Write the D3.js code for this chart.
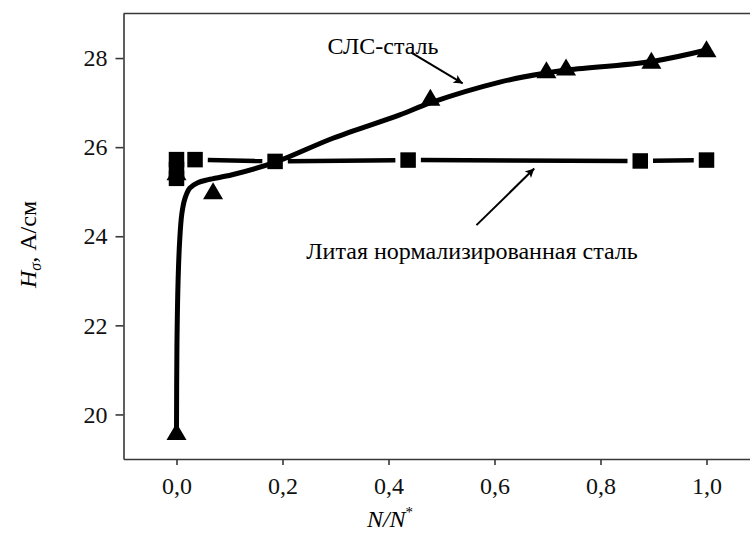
<!DOCTYPE html>
<html>
<head>
<meta charset="utf-8">
<script src="https://cdn.jsdelivr.net/npm/d3@7"></script>
<style>
body { margin: 0; background: #fff; }
</style>
</head>
<body>
<div id="chart"></div>
<script>
// SLS steel (triangles)
var slsX = [0.0, 0.0, 0.069, 0.479, 0.698, 0.735, 0.896, 1.0];
var slsY = [19.62, 25.45, 25.02, 27.12, 27.74, 27.80, 27.95, 28.21];

// smoothed curve drawn through the SLS points
var fitX = [0.0, 0.0008, 0.003, 0.006, 0.010, 0.016, 0.025, 0.040, 0.060, 0.105, 0.188, 0.295, 0.420, 0.480, 0.610, 0.690, 0.735, 0.900, 1.0];
var fitY = [19.62, 21.5, 23.0, 23.9, 24.5, 24.85, 25.08, 25.2, 25.27, 25.38, 25.67, 26.2, 26.72, 27.0, 27.46, 27.65, 27.73, 27.93, 28.18];

// cast normalized steel (squares)
var castX = [0.0, 0.0, 0.0, 0.035, 0.186, 0.437, 0.875, 1.0];
var castY = [25.3, 25.5, 25.72, 25.72, 25.68, 25.71, 25.69, 25.71];

var xTicks = [0, 0.2, 0.4, 0.6, 0.8, 1.0];
var xMinor = [-0.1, 0.1, 0.3, 0.5, 0.7, 0.9, 1.1];
var yTicks = [20, 22, 24, 26, 28];
var yMinor = [21, 23, 25, 27];

var W = 750, H = 540;
var axisColor = '#383838';
var serif = "'Liberation Serif', serif";
var fs = '24px';

var svg = d3.select('#chart').append('svg')
    .attr('width', W)
    .attr('height', H);

var x = d3.scaleLinear().domain([-0.1, 1.1]).range([123.5, 759.5]);
var y = d3.scaleLinear().domain([19, 29]).range([459, 13.5]);

var comma = function(d) { return d3.format('.1f')(d).replace('.', ','); };

// AXES
var gx = svg.append('g')
    .attr('transform', 'translate(0,' + y(19) + ')');
gx.call(d3.axisBottom(x).tickValues(xMinor).tickSize(3).tickSizeOuter(0).tickFormat(''));
gx.call(d3.axisBottom(x).tickValues(xTicks).tickSize(6).tickSizeOuter(0).tickFormat(comma));

var gy = svg.append('g')
    .attr('transform', 'translate(' + x(-0.1) + ',0)');
gy.call(d3.axisLeft(y).tickValues(yMinor).tickSize(4).tickSizeOuter(0).tickFormat(''));
gy.call(d3.axisLeft(y).tickValues(yTicks).tickSize(8).tickSizeOuter(0).tickPadding(8));

[gx, gy].forEach(function(g) {
  g.selectAll('path.domain').attr('stroke', axisColor).attr('stroke-width', 1.6);
  g.selectAll('line').attr('stroke', axisColor).attr('stroke-width', 1.6);
  g.selectAll('text')
    .attr('fill', '#111')
    .style('font-family', serif)
    .style('font-size', fs);
});
gx.selectAll('text').attr('y', 35).attr('dy', null);

// top border
svg.append('line')
    .attr('x1', x(-0.1)).attr('x2', x(1.1))
    .attr('y1', y(29)).attr('y2', y(29))
    .attr('stroke', axisColor).attr('stroke-width', 1.6);

// SLS SMOOTH CURVE
var fit = fitX.map(function(d, i) { return [d, fitY[i]]; });
svg.append('path')
    .datum(fit)
    .attr('fill', 'none')
    .attr('stroke', '#000')
    .attr('stroke-width', 5)
    .attr('stroke-linejoin', 'round')
    .attr('d', d3.line()
        .x(function(d) { return x(d[0]); })
        .y(function(d) { return y(d[1]); })
        .curve(d3.curveCatmullRom.alpha(0.5)));

// triangle symbol centred on its box, like the plotting program does
var tri = {
  draw: function(ctx, size) {
    var w = Math.sqrt(size * 2 / 0.85), h = w * 0.85;
    ctx.moveTo(0, -h / 2);
    ctx.lineTo(w / 2, h / 2);
    ctx.lineTo(-w / 2, h / 2);
    ctx.closePath();
  }
};

var sls = slsX.map(function(d, i) { return [d, slsY[i]]; });
svg.selectAll('.tri')
    .data(sls)
    .enter().append('path')
    .attr('class', 'tri')
    .attr('transform', function(d) { return 'translate(' + x(d[0]) + ',' + y(d[1]) + ')'; })
    .attr('d', d3.symbol(tri, 170));

// CAST STEEL LINE with gaps round the symbols
var cast = castX.map(function(d, i) { return [d, castY[i]]; });
var sq = 15.5, gap = sq / 2 + 5;
var segs = [];
for (var i = 1; i < cast.length; i++) {
  var x0 = x(cast[i - 1][0]), y0 = y(cast[i - 1][1]),
      x1 = x(cast[i][0]), y1 = y(cast[i][1]);
  var len = Math.hypot(x1 - x0, y1 - y0);
  if (len > 2 * gap) {
    var ux = (x1 - x0) / len, uy = (y1 - y0) / len;
    segs.push([x0 + ux * gap, y0 + uy * gap, x1 - ux * gap, y1 - uy * gap]);
  }
}
svg.selectAll('.seg')
    .data(segs)
    .enter().append('line')
    .attr('class', 'seg')
    .attr('x1', function(d) { return d[0]; })
    .attr('y1', function(d) { return d[1]; })
    .attr('x2', function(d) { return d[2]; })
    .attr('y2', function(d) { return d[3]; })
    .attr('stroke', '#000')
    .attr('stroke-width', 4.5);

svg.selectAll('.sq')
    .data(cast)
    .enter().append('path')
    .attr('class', 'sq')
    .attr('transform', function(d) { return 'translate(' + x(d[0]) + ',' + y(d[1]) + ')'; })
    .attr('d', d3.symbol(d3.symbolSquare, sq * sq));

// ANNOTATIONS
svg.append('defs').append('marker')
    .attr('id', 'head')
    .attr('viewBox', '0 0 10 10')
    .attr('refX', 10).attr('refY', 5)
    .attr('markerWidth', 18).attr('markerHeight', 9)
    .attr('markerUnits', 'userSpaceOnUse')
    .attr('orient', 'auto')
    .append('path')
    .attr('d', 'M0,0 L10,5 L0,10 L2.5,5 Z')
    .attr('fill', '#000');

function arrow(a, b) {
  svg.append('line')
      .attr('x1', x(a[0])).attr('y1', y(a[1]))
      .attr('x2', x(b[0])).attr('y2', y(b[1]))
      .attr('stroke', '#000')
      .attr('stroke-width', 2)
      .attr('marker-end', 'url(#head)');
}
arrow([0.443, 28.12], [0.540, 27.43]);
arrow([0.566, 24.25], [0.675, 25.52]);

svg.append('text')
    .attr('x', x(0.285)).attr('y', y(28.1))
    .style('font-family', serif)
    .style('font-size', fs)
    .text('СЛС-сталь');

svg.append('text')
    .attr('x', x(0.245)).attr('y', y(23.48))
    .style('font-family', serif)
    .style('font-size', fs)
    .text('Литая нормализированная сталь');

// AXIS TITLES
var yt = svg.append('text')
    .attr('transform', 'translate(36,288) rotate(-90)')
    .style('font-family', serif)
    .style('font-size', fs);
yt.append('tspan').style('font-style', 'italic').text('H');
yt.append('tspan').style('font-style', 'italic').style('font-size', '16px').attr('dy', 5).text('σ');
yt.append('tspan').attr('dy', -5).text(', А/см');

var xt = svg.append('text')
    .attr('x', 390).attr('y', 527)
    .attr('text-anchor', 'middle')
    .style('font-family', serif)
    .style('font-size', fs);
xt.append('tspan').style('font-style', 'italic').text('N/N');
xt.append('tspan').style('font-size', '15px').attr('dy', -10).text('*');
</script>
</body>
</html>
